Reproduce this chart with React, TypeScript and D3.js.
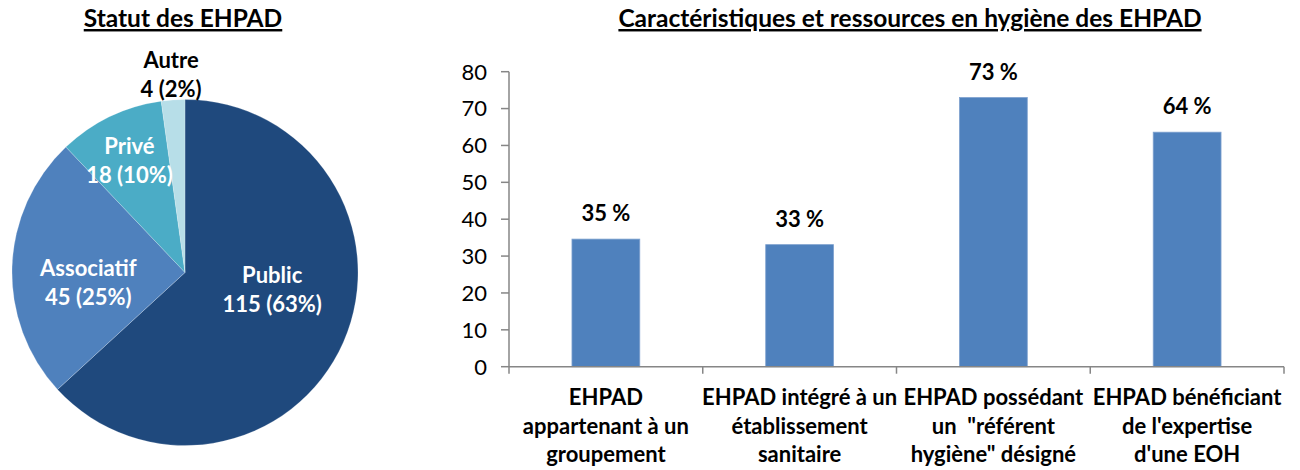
import React from 'react';
import * as d3 from 'd3';

// pie: statut des EHPAD
const statutLabels = ['Public', 'Associatif', 'Privé', 'Autre'];
const statutCounts = [115, 45, 18, 4];
const statutPct = [63, 25, 10, 2];
const statutColors = ['#1F497D', '#4F81BD', '#4BACC6', '#B7DEE8'];

// bars: caractéristiques et ressources
const barCategories = [
  ['EHPAD', 'appartenant à un', 'groupement'],
  ['EHPAD intégré à un', 'établissement', 'sanitaire'],
  ['EHPAD possédant', 'un  "référent', 'hygiène" désigné'],
  ['EHPAD bénéficiant', "de l'expertise", "d'une EOH"],
];
const barValues = [34.6, 33.1, 73.0, 63.6];
const barLabels = ['35 %', '33 %', '73 %', '64 %'];
const yTicks = [0, 10, 20, 30, 40, 50, 60, 70, 80];

// label placement inside the pie (radius factor, angle shift in rad)
const pieLabelPlace = [
  { r: 0.51, shift: -0.26, fill: '#fff' },
  { r: 0.56, shift: -0.1, fill: '#fff' },
  { r: 0.74, shift: 0, fill: '#fff' },
  { r: 1.17, shift: 0, fill: '#000' },
];

const FONT = 'Lato, Carlito, Calibri, sans-serif';

function PieChart() {
  const cx = 185;
  const cy = 272.5;
  const R = 173;
  const pie = d3.pie<number>().sort(null).value(d => d);
  const arcs = pie(statutCounts);
  const arc = d3.arc<d3.PieArcDatum<number>>().innerRadius(0).outerRadius(R);

  return (
    <g>
      <text x={cx - 2} y={27} textAnchor="middle" fontFamily={FONT} fontWeight={700}
        fontSize={24.5} style={{ textDecoration: 'underline' }}>Statut des EHPAD</text>
      <g transform={`translate(${cx},${cy})`}>
        {arcs.map((a, i) => (
          <path key={i} d={arc(a) || ''} fill={statutColors[i]} stroke="#fff" strokeWidth={0.4} strokeOpacity={0.5} />
        ))}
        {arcs.map((a, i) => {
          const p = pieLabelPlace[i];
          const ang = (a.startAngle + a.endAngle) / 2 + p.shift;
          const x = Math.sin(ang) * R * p.r;
          const y = -Math.cos(ang) * R * p.r;
          return (
            <text key={i} x={x} y={y} textAnchor="middle" fontFamily={FONT} fontWeight={700}
              fontSize={22} fill={p.fill}>
              <tspan x={x} dy={-3}>{statutLabels[i]}</tspan>
              <tspan x={x} dy={29}>{`${statutCounts[i]} (${statutPct[i]}%)`}</tspan>
            </text>
          );
        })}
      </g>
    </g>
  );
}

function BarChart() {
  const x0 = 509;
  const x1 = 1284;
  const y = d3.scaleLinear().domain([0, 80]).range([366.7, 71.7]);
  const x = d3.scaleBand<number>()
    .domain(barValues.map((_, i) => i))
    .range([x0, x1])
    .paddingInner(0.65)
    .paddingOuter(0.325);
  const step = x.step();
  const axisColor = '#868686';

  return (
    <g fontFamily={FONT}>
      <text x={910} y={27} textAnchor="middle" fontWeight={700} fontSize={24.5}
        style={{ textDecoration: 'underline' }}>
        Caractéristiques et ressources en hygiène des EHPAD
      </text>
      {/* y axis */}
      <line x1={x0} x2={x0} y1={y(80)} y2={y(0)} stroke={axisColor} strokeWidth={1.5} />
      {yTicks.map(t => (
        <g key={t}>
          <line x1={x0 - 8} x2={x0} y1={y(t)} y2={y(t)} stroke={axisColor} strokeWidth={1.5} />
          <text x={487} y={y(t)} dy="0.36em" textAnchor="end" fontSize={22} fill="#000">{t}</text>
        </g>
      ))}
      {/* bars */}
      {barValues.map((v, i) => (
        <g key={i}>
          <rect x={x(i)} y={y(v)} width={x.bandwidth()} height={y(0) - y(v)}
            fill="#4F81BD" stroke="#7EA1CF" strokeWidth={0.8} />
          <text x={(x(i) || 0) + x.bandwidth() / 2} y={y(v) - 18} textAnchor="middle"
            fontWeight={700} fontSize={22} fill="#000">{barLabels[i]}</text>
        </g>
      ))}
      {/* x axis */}
      <line x1={x0} x2={x1} y1={y(0)} y2={y(0)} stroke={axisColor} strokeWidth={1.5} />
      {d3.range(barValues.length + 1).map(k => (
        <line key={k} x1={x0 + k * step} x2={x0 + k * step} y1={y(0)} y2={y(0) + 7}
          stroke={axisColor} strokeWidth={1.5} />
      ))}
      {barCategories.map((lines, i) => (
        <text key={i} textAnchor="middle" fontWeight={700} fontSize={22} fill="#000">
          {lines.map((l, j) => (
            <tspan key={j} x={(x(i) || 0) + x.bandwidth() / 2} y={405 + j * 28.5}
              style={{ whiteSpace: 'pre' }}>{l}</tspan>
          ))}
        </text>
      ))}
    </g>
  );
}

export default function App() {
  return (
    <svg width={1300} height={470} style={{ position: 'absolute', left: 0, top: 0, background: '#fff' }}>
      <rect width={1300} height={470} fill="#fff" />
      <PieChart />
      <BarChart />
    </svg>
  );
}
